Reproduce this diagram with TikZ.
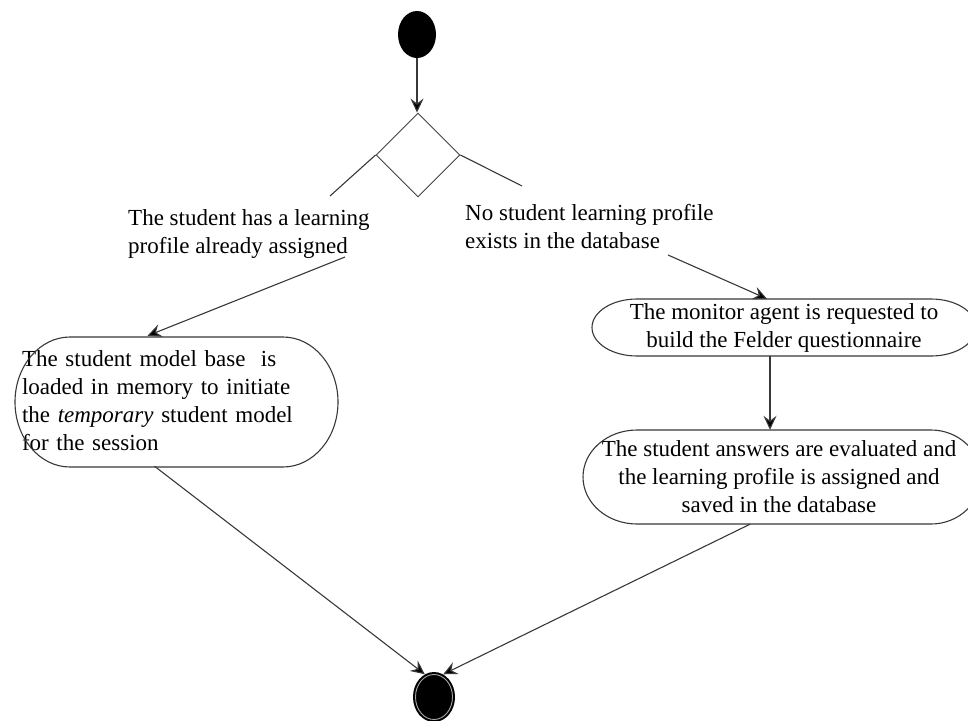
\documentclass[tikz,border=0pt]{standalone}
\usepackage{fontspec}
\setmainfont{Liberation Serif}
\usetikzlibrary{arrows.meta,shapes.geometric}

\begin{document}
\begin{tikzpicture}[x=1pt,y=-1pt,
  line/.style={draw=black!78, line width=1.1pt},
  arr/.style={line, -{Stealth[length=14pt,width=13pt,inset=5pt,fill=black]}},
  txt/.style={font=\fontsize{23}{28}\selectfont, inner sep=0pt},
  box/.style={txt, inner xsep=7pt},
]
\useasboundingbox (0,0) rectangle (968,720);

% initial and final states
\node[ellipse, fill=black, minimum width=38pt, minimum height=47pt, inner sep=0pt] (start) at (417,34.5) {};
\node[ellipse, fill=black, minimum width=42pt, minimum height=50pt, inner sep=0pt] (fin) at (434,697) {};
\draw[black!35, line width=0.9pt] (434,697) ellipse[x radius=18.5, y radius=22.5];

% decision
\node[diamond, draw=black!75, line width=0.9pt, minimum width=84pt, minimum height=84pt, inner sep=0pt] (dec) at (418,155) {};

% guard labels
\node[txt, align=left, anchor=west] (yes) at (128,234) {The student has a learning\\profile already assigned};
\node[txt, align=left, anchor=west] (no) at (465,227) {No student learning profile\\exists in the database};

% activities
\node[box, text width=309pt, align=left, minimum height=130pt] (lbox) at (176.5,401)
  {The student model base\ \ is\\loaded in memory to initiate\\the \textit{temporary} student model\\for the session};
\node[txt, align=center, minimum width=384pt, minimum height=57pt] (r1) at (784,327.5)
  {The monitor agent is requested to\\build the Felder questionnaire};
\node[txt, align=center, minimum width=388pt, minimum height=94pt] (r2) at (779,477)
  {The student answers are evaluated and\\the learning profile is assigned and\\saved in the database};

% activity outlines
\draw[line] (70,337) -- (283,337) arc[start angle=-90, end angle=90, x radius=55, y radius=65]
  -- (70,467) arc[start angle=90, end angle=270, x radius=55, y radius=65] -- cycle;
\draw[line] (637,299) -- (931,299) arc[start angle=-90, end angle=90, x radius=45, y radius=28.5]
  -- (637,356) arc[start angle=90, end angle=270, x radius=45, y radius=28.5] -- cycle;
\draw[line] (637,430) -- (931,430) arc[start angle=-90, end angle=90, x radius=50, y radius=47]
  -- (637,524) arc[start angle=90, end angle=270, x radius=54, y radius=47] -- cycle;

% free ends of the guard lines
\coordinate (ycut) at (330,196);
\coordinate (ncut) at (522,186);
\coordinate (ytail) at (345,257);
\coordinate (ntail) at (668,255);

% flows
\draw[arr] (start.south) -- ([xshift=-1pt]dec.north);
\draw[line] (dec.west) -- (ycut);
\draw[line] (dec.east) -- (ncut);
\draw[arr] (ytail) -- ([xshift=-29pt]lbox.north);
\draw[arr] (ntail) -- ([xshift=-17pt]r1.north);
\draw[arr] ([xshift=-14pt]r1.south) -- ([xshift=-9pt]r2.north);
\draw[arr] ([xshift=-22pt]lbox.south) -- (fin.112);
\draw[arr] ([xshift=-29pt]r2.south) -- (fin.68);
\end{tikzpicture}
\end{document}
